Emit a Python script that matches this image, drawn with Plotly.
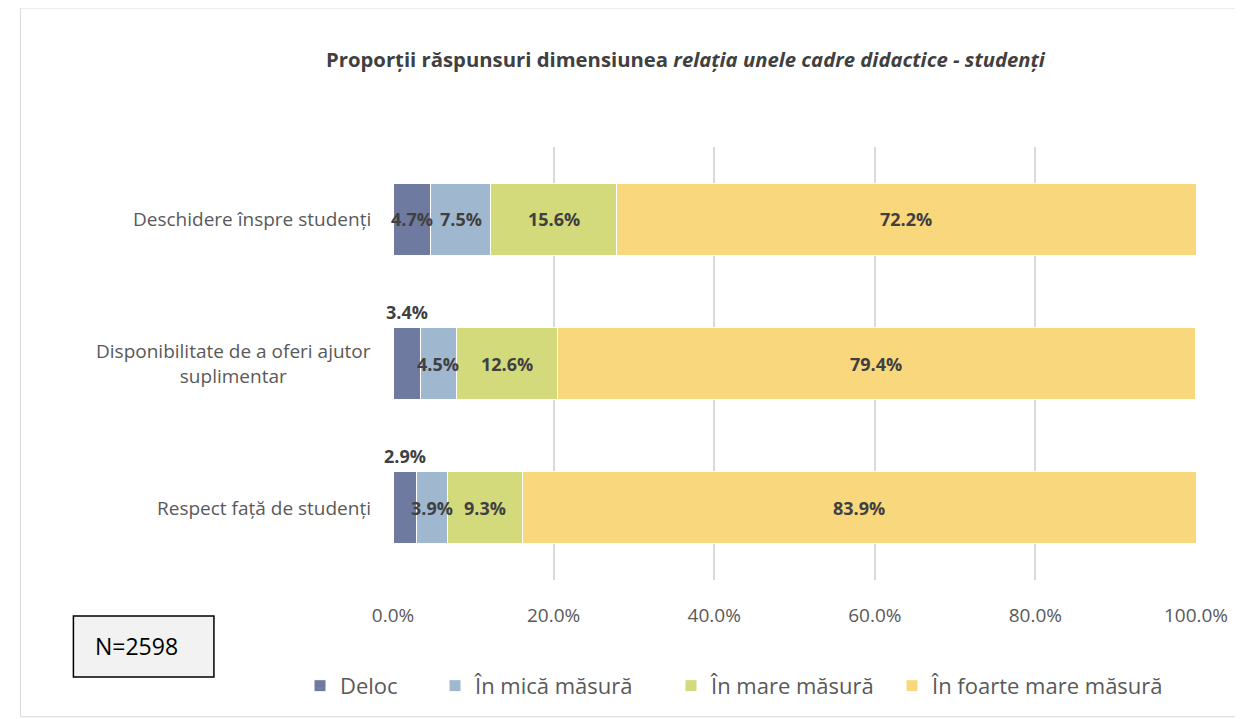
import plotly.graph_objects as go

categories = ["Deschidere înspre studenți",
              "Disponibilitate de a oferi ajutor suplimentar",
              "Respect față de studenți"]
cat_labels = ["Deschidere înspre studenți",
              "Disponibilitate de a oferi ajutor<br>suplimentar",
              "Respect față de studenți"]
series_names = ["Deloc", "În mică măsură", "În mare măsură", "În foarte mare măsură"]
deloc = [4.7, 3.4, 2.9]
mica = [7.5, 4.5, 3.9]
mare = [15.6, 12.6, 9.3]
foarte = [72.2, 79.4, 83.9]
colors = ["#6f7aa1", "#a0b8cf", "#d3da7c", "#f9d87d"]
x_ticks = [0, 20, 40, 60, 80, 100]
x_tick_text = ["0.0%", "20.0%", "40.0%", "60.0%", "80.0%", "100.0%"]

values = [deloc, mica, mare, foarte]
FONT = "Open Sans"
label_font = dict(family=FONT, size=18, color="#404040")

# pixel positions of legend text starts (layout only)
legend_px = [340, 475, 711, 932]
legend_ids = ["legend", "legend2", "legend3", "legend4"]

fig = go.Figure()
for name, vals, col, lid in zip(series_names, values, colors, legend_ids):
    fig.add_trace(go.Bar(
        y=categories, x=vals, name=name, orientation="h",
        marker=dict(color=col, line=dict(color="white", width=1)),
        width=0.5, hoverinfo="x+name", legend=lid, showlegend=True,
    ))

annotations = []
base = [0.0, 0.0, 0.0]
for si, vals in enumerate(values):
    for i, v in enumerate(vals):
        center = base[i] + v / 2
        above = (si == 0 and i > 0)
        annotations.append(dict(x=center, y=categories[i], xref="x", yref="y",
                                text=f"<b>{v:.1f}%</b>", showarrow=False,
                                yshift=52 if above else 0, font=label_font))
        base[i] += v
for c, lab in zip(categories, cat_labels):
    annotations.append(dict(x=-0.025, y=c, xref="paper", yref="y", text=lab,
                            showarrow=False, xanchor="right", align="center",
                            font=dict(family=FONT, size=19, color="#595959")))
annotations.append(dict(
    x=0.365, y=1.24, xref="paper", yref="paper", showarrow=False,
    text="<b>Proporții răspunsuri dimensiunea <i>relația unele cadre didactice - studenți</i></b>",
    font=dict(family=FONT, size=20.3, color="#404040")))
annotations.append(dict(
    x=-0.374, y=-0.153, xref="paper", yref="paper", showarrow=False,
    xanchor="left", yanchor="middle", text="N=2598",
    font=dict(family=FONT, size=23, color="#000000")))

shapes = [
    dict(type="rect", xref="paper", yref="paper", x0=-0.464, x1=1.0548, y0=-0.316, y1=1.321,
         line=dict(color="#d9d9d9", width=1), fillcolor="rgba(0,0,0,0)", layer="below"),
    dict(type="rect", xref="paper", yref="paper", x0=-0.398, x1=-0.223, y0=-0.224, y1=-0.083,
         line=dict(color="#000000", width=1.5), fillcolor="#f2f2f2"),
]

legend_layout = {}
for lid, px in zip(legend_ids, legend_px):
    legend_layout[lid] = dict(orientation="h", x=(px - 8 - 40 - 385) / 803, xanchor="left",
                              y=-0.196, yanchor="top", bgcolor="rgba(0,0,0,0)",
                              font=dict(family=FONT, size=22, color="#595959"))

fig.update_layout(
    barmode="stack",
    showlegend=True,
    width=1235, height=711,
    margin=dict(l=385, r=47, t=139, b=139, autoexpand=False),
    plot_bgcolor="white", paper_bgcolor="white",
    font=dict(family=FONT, color="#595959"),
    xaxis=dict(range=[0, 100], tickvals=x_ticks, ticktext=x_tick_text,
               showgrid=True, gridcolor="#d9d9d9", gridwidth=2, zeroline=False,
               tickfont=dict(family=FONT, size=19, color="#595959"), ticklen=0,
               ticks="", showline=False, ticklabelstandoff=22, automargin=False),
    yaxis=dict(autorange="reversed", showticklabels=False,
               showgrid=False, zeroline=False, showline=False, automargin=False,
               categoryorder="array", categoryarray=categories),
    annotations=annotations,
    shapes=shapes,
    **legend_layout,
)
fig.write_html("out.html")
